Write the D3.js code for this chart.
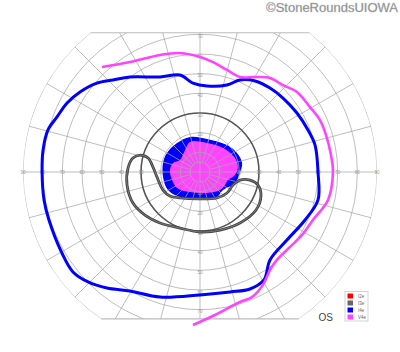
<!DOCTYPE html>
<html><head><meta charset="utf-8">
<script src="https://cdn.jsdelivr.net/npm/d3@7"></script>
<style>html,body{margin:0;padding:0;background:#fff;}svg{display:block;}</style>
</head><body>
<script>
// ---- data: isopters in visual-field degrees [horizontal, vertical] ----
const ringDegrees = [5, 10, 20, 30, 40, 50, 60, 70, 80, 90];
const meridianStep = 15;
const hLabels = [10, 20, 30, 40, 50, 60, 70, 80, 90];
const vLabels = [10, 20, 30, 40, 50, 60, 70];
const gridTop = 70.8, gridBottom = -74.7;
const legendNames = ["I2e", "I3e", "I4e", "V4e"];
const legendColors = ["#ff0000", "#666666", "#0000ff", "#ff44ff"];
const eyeLabel = "OS";
const watermark = "\u00A9StoneRoundsUIOWA";

const isoI4e = [[-80.3,0],[-79.8,11.2],[-77.3,21.4],[-72.7,28.0],[-67.6,35.1],[-61.0,40.7],[-52.4,45.2],[-44.2,46.8],[-35.6,48.3],[-20.3,48.3],[-10.2,49.3],[-3.6,45.2],[3.6,43.7],[13.7,44.2],[20.3,46.8],[28.0,46.3],[35.6,42.7],[42.2,37.6],[49.3,30.0],[54.9,21.4],[58.5,13.7],[60.0,0],[60.0,-14.2],[53.4,-24.4],[44.2,-34.6],[35.6,-44.7],[32.5,-54.9],[25.4,-59.5],[15.3,-61.0],[0,-62.5],[-20.3,-63.6],[-35.6,-60.5],[-47.3,-59.0],[-56.9,-55.9],[-64.6,-50.8],[-70.2,-41.2],[-76.8,-24.4],[-79.3,-14.2]];
const isoV4e = [[-49.8,53.4],[-35.6,55.9],[-20.3,59.5],[-10.2,60.5],[0,58.5],[6.6,55.9],[13.7,51.9],[20.3,48.3],[28.0,48.3],[35.6,47.8],[42.2,44.2],[49.3,40.7],[55.9,33.0],[61.0,26.4],[64.1,18.8],[66.6,8.6],[67.6,0],[65.1,-14.2],[57.4,-24.4],[51.9,-32.0],[45.8,-38.1],[39.1,-44.7],[35.6,-49.8],[32.0,-57.4],[26.4,-63.6],[20.3,-66.1],[7.6,-72.7],[-3.6,-77.8]];
const isoI3e = [[-34.1,7.1],[-30.5,8.6],[-26.4,7.1],[-23.9,2.5],[-21.9,-2.5],[-18.8,-9.2],[-15.3,-12.2],[-10.2,-13.2],[0,-13.7],[8.6,-13.2],[13.7,-10.7],[16.8,-6.6],[20.3,-4.1],[25.4,-4.1],[29.5,-6.6],[31.0,-12.2],[28.5,-19.3],[20.3,-25.9],[10.2,-29.5],[0,-30.5],[-10.2,-28.5],[-20.3,-25.9],[-28.0,-21.9],[-34.1,-15.8],[-37.1,-6.6],[-36.6,2.0]];
const centralI4e = [[-5.1,17.8],[3.6,16.8],[13.7,13.7],[18.8,9.7],[21.4,4.6],[20.3,-0.5],[17.8,-5.6],[11.7,-9.2],[8.6,-12.7],[0,-13.2],[-10.2,-12.7],[-16.3,-9.2],[-18.8,-2.5],[-18.8,4.6],[-16.8,9.7],[-11.7,14.7]];
const centralV4e = [[-5.1,15.3],[3.6,14.7],[12.7,11.7],[17.8,7.1],[19.3,2.5],[17.8,-1.5],[14.2,-4.1],[12.7,-6.6],[10.2,-9.2],[3.6,-10.7],[-5.1,-10.2],[-11.7,-8.1],[-14.2,-4.1],[-15.3,1.0],[-13.7,4.6],[-10.2,6.1],[-7.6,11.2]];

// ---- drawing ----
const W = 400, H = 352;
const svg = d3.select("body").append("svg").attr("width", W).attr("height", H);
const x = d3.scaleLinear().domain([-90, 90]).range([23, 377]);
const y = d3.scaleLinear().domain([-90, 90]).range([349, -5]);
const cx = x(0), cy = y(0);
const r = d => x(d) - x(0);

const defs = svg.append("defs");
defs.append("clipPath").attr("id", "circ").append("circle").attr("cx", cx).attr("cy", cy).attr("r", r(90));
defs.append("clipPath").attr("id", "band").append("rect").attr("x", 0).attr("width", W)
  .attr("y", y(gridTop)).attr("height", y(gridBottom) - y(gridTop));

const line = d3.line().x(d => x(d[0])).y(d => y(d[1]));

svg.append("path").datum(centralI4e).attr("d", line.curve(d3.curveCatmullRomClosed)).attr("fill", "#0000ff");
svg.append("path").datum(centralV4e).attr("d", line.curve(d3.curveCatmullRomClosed)).attr("fill", "#ff44ff");

const grid = svg.append("g").attr("clip-path", "url(#band)").append("g").attr("clip-path", "url(#circ)");
for (let a = 0; a < 360; a += meridianStep) {
  const t = a * Math.PI / 180;
  const r0 = (a % 90 === 0) ? 0 : 5;
  grid.append("line")
    .attr("x1", cx + r(r0) * Math.cos(t)).attr("y1", cy - r(r0) * Math.sin(t))
    .attr("x2", cx + r(100) * Math.cos(t)).attr("y2", cy - r(100) * Math.sin(t))
    .attr("stroke", "#aaaaaa").attr("stroke-width", 0.9).attr("opacity", 0.85);
}
grid.selectAll("circle.ring").data(ringDegrees).join("circle")
  .attr("cx", cx).attr("cy", cy).attr("r", d => r(d))
  .attr("fill", "none")
  .attr("stroke", d => d === 30 ? "#555" : "#aaaaaa")
  .attr("stroke-width", d => d === 30 ? 1.6 : 0.9).attr("opacity", d => d === 30 ? 1 : 0.85);
const dxTop = Math.sqrt(90 * 90 - gridTop * gridTop), dxBot = Math.sqrt(90 * 90 - gridBottom * gridBottom);
svg.append("line").attr("x1", x(-dxTop)).attr("x2", x(dxTop)).attr("y1", y(gridTop)).attr("y2", y(gridTop))
  .attr("stroke", "#bbbbbb").attr("stroke-width", 1.2);
svg.append("line").attr("x1", x(-dxBot)).attr("x2", x(dxBot)).attr("y1", y(gridBottom)).attr("y2", y(gridBottom))
  .attr("stroke", "#bbbbbb").attr("stroke-width", 1.2);

const lab = svg.append("g").attr("font-family", "Liberation Sans, Arial, sans-serif").attr("font-size", 4.5)
  .attr("fill", "#999").attr("text-anchor", "middle").attr("dominant-baseline", "central");
hLabels.forEach(v => {
  lab.append("text").attr("x", x(v)).attr("y", cy).text(v);
  lab.append("text").attr("x", x(-v)).attr("y", cy).text(v);
});
vLabels.forEach(v => {
  lab.append("text").attr("x", cx).attr("y", y(v) + 2).text(v);
  lab.append("text").attr("x", cx).attr("y", y(-v) + 2).text(v);
});

// isopters
const i3 = line.curve(d3.curveCatmullRomClosed)(isoI3e);
svg.append("path").attr("d", i3).attr("fill", "none").attr("stroke", "#444").attr("stroke-width", 2.8);
svg.append("path").attr("d", i3).attr("fill", "none").attr("stroke", "#7a7a7a").attr("stroke-width", 1);
svg.append("path").datum(isoI4e).attr("d", line.curve(d3.curveCatmullRomClosed))
  .attr("fill", "none").attr("stroke", "#0000ff").attr("stroke-width", 3);
svg.append("path").datum(isoV4e).attr("d", line.curve(d3.curveCatmullRom))
  .attr("fill", "none").attr("stroke", "#ff44ff").attr("stroke-width", 2.6);

svg.append("text").attr("x", 333).attr("y", 321).attr("text-anchor", "end")
  .attr("font-family", "Liberation Sans, Arial, sans-serif").attr("font-size", 10).attr("fill", "#444").text(eyeLabel);

const lg = svg.append("g");
lg.append("rect").attr("x", 345).attr("y", 291.5).attr("width", 23).attr("height", 29.5)
  .attr("fill", "#fff").attr("stroke", "#c8c8c8").attr("stroke-width", 0.8);
legendNames.forEach((n, i) => {
  lg.append("rect").attr("x", 347.5).attr("y", 293.5 + i * 7).attr("width", 5.5).attr("height", 5)
    .attr("fill", legendColors[i]);
  lg.append("text").attr("x", 358).attr("y", 296 + i * 7).attr("dominant-baseline", "central")
    .attr("font-family", "Liberation Sans, Arial, sans-serif").attr("font-size", 4.5).attr("fill", "#666").text(n);
});

svg.append("text").attr("x", 398).attr("y", 12).attr("text-anchor", "end")
  .attr("font-family", "Liberation Sans, Arial, sans-serif").attr("font-size", 13)
  .attr("fill", "#777").attr("stroke", "#bbb").attr("stroke-width", 0.4).text(watermark);
</script>
</body></html>
